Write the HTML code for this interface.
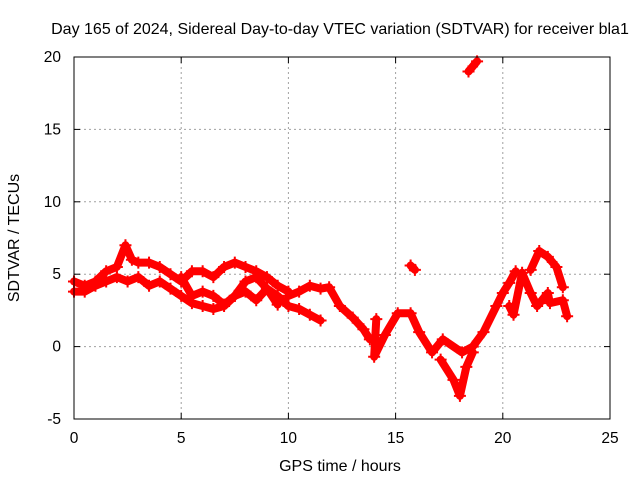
<!DOCTYPE html>
<html><head><meta charset="utf-8"><style>
body{margin:0;background:#fff}
svg text{font-family:"Liberation Sans",sans-serif;font-size:15.5px;fill:#000}
</style></head><body>
<svg id="chart" width="640" height="480" xmlns="http://www.w3.org/2000/svg">
<text x="340" y="34" text-anchor="middle" style="font-size:16px">Day 165 of 2024, Sidereal Day-to-day VTEC variation (SDTVAR) for receiver bla1</text>
<text x="340" y="471" text-anchor="middle" style="font-size:16px">GPS time / hours</text>
<text transform="translate(19,238) rotate(-90)" text-anchor="middle" style="font-size:16px">SDTVAR / TECUs</text>
<g id="grid"></g><g id="marks"></g><g id="axes"></g>
</svg>
<script>
const xTicks=[0,5,10,15,20,25];
const yTicks=[-5,0,5,10,15,20];
const trackUpper=[[0,4.5],[0.5,4.2],[1,4.5],[1.5,5.2],[2,5.5],[2.4,7.0],[2.7,6.0],[3,5.8],[3.5,5.8],[4,5.5],[4.5,5.0],[5,4.5],[5.5,5.2],[6,5.2],[6.5,4.8],[7,5.5],[7.5,5.8],[8,5.5],[8.5,5.2],[9,4.8],[9.5,4.2],[10,3.8]];
const trackLower=[[0,3.8],[0.5,3.8],[1,4.2],[1.5,4.5],[2,4.8],[2.5,4.5],[3,4.8],[3.5,4.2],[4,4.5],[4.5,4.0],[5,3.5],[5.5,3.0],[6,2.8],[6.5,2.6],[7,2.8],[7.5,3.5],[8,3.8],[8.5,3.2],[9,4.0],[9.5,3.5],[10,2.8],[10.5,2.6],[11,2.2],[11.5,1.8]];
const trackMiddle=[[5,4.8],[5.5,3.5],[6,3.8],[6.5,3.5],[7,2.9],[7.5,3.5],[8,4.5],[8.5,4.8],[9,4.0],[9.5,2.9]];
const trackMid2=[[10,3.5],[10.5,3.8],[11,4.2],[11.5,4.0],[11.9,4.1],[12.4,2.8],[13,2.0],[13.5,1.2],[13.8,0.5]];
const trackDip=[[14.1,1.9],[14.0,-0.7],[14.5,0.8],[15.1,2.3],[15.7,2.3],[16.1,1.0],[16.7,-0.4],[17.2,0.5],[18.1,-0.4],[18.6,0],[19.1,1.0],[19.7,2.8],[20.0,3.7],[20.3,4.4],[20.6,5.2]];
const trackDown=[[17.1,-0.9],[17.7,-2.3],[18.0,-3.4],[18.3,-1.4],[18.6,-0.4]];
const trackRight=[[20.3,2.8],[20.5,2.2],[20.9,5.1],[21.3,3.7],[21.6,2.8],[22.1,3.7],[22.2,3.0],[22.8,3.2],[23.0,2.1]];
const trackRightUp=[[21.3,5.3],[21.7,6.6],[22.1,6.2],[22.5,5.5],[22.8,4.1]];
const trackIso=[[15.7,5.6],[15.9,5.3]];
const trackTop=[[18.4,19.0],[18.8,19.7]];
const tracks=[trackUpper,trackLower,trackMiddle,trackMid2,trackDip,trackDown,trackRight,trackRightUp,trackIso,trackTop];
const L=74,R=610,T=57,B=419;
const xs=v=>L+(v-0)/25*(R-L);
const ys=v=>B-(v+5)/25*(B-T);
const NS="http://www.w3.org/2000/svg";
const grid=document.getElementById('grid'),marks=document.getElementById('marks'),axes=document.getElementById('axes');
function mk(tag,attrs,parent){const e=document.createElementNS(NS,tag);for(const k in attrs)e.setAttribute(k,attrs[k]);parent.appendChild(e);return e;}
xTicks.forEach(t=>{
 if(t>0&&t<25){const g=mk('line',{x1:xs(t),x2:xs(t),y1:T,y2:B,stroke:'#a0a0a0','stroke-dasharray':'2,3'},grid);
 
 }
 const tx=mk('text',{x:xs(t),y:B+24,'text-anchor':'middle'},axes);tx.textContent=t;
 
 
 mk('line',{x1:xs(t),x2:xs(t),y1:B,y2:B-6,stroke:'#000'},axes);
 mk('line',{x1:xs(t),x2:xs(t),y1:T,y2:T+6,stroke:'#000'},axes);
});
yTicks.forEach(t=>{
 if(t>-5&&t<20){const g=mk('line',{x1:L,x2:R,y1:ys(t),y2:ys(t),stroke:'#a0a0a0','stroke-dasharray':'2,3'},grid);
 
 }
 const tx=mk('text',{x:L-13,y:ys(t)+5,'text-anchor':'end'},axes);tx.textContent=t;
 
 
 mk('line',{x1:L,x2:L+6,y1:ys(t),y2:ys(t),stroke:'#000'},axes);
 mk('line',{x1:R,x2:R-6,y1:ys(t),y2:ys(t),stroke:'#000'},axes);
});
const fr=mk('rect',{x:L,y:T,width:R-L,height:B-T,fill:'none',stroke:'#000'},axes);


tracks.forEach(tr=>{
 const pl=mk('polyline',{points:tr.map(p=>xs(p[0])+','+ys(p[1])).join(' '),fill:'none',stroke:'#f00','stroke-width':8,'stroke-linejoin':'round','stroke-linecap':'round'},marks);
 
 
 tr.forEach(p=>{
  const x=xs(p[0]),y=ys(p[1]);
  const m=mk('path',{d:`M${x-6},${y}h12M${x},${y-6}v12`,stroke:'#f00','stroke-width':2},marks);
  
  
 });
});
</script>
</body></html>
